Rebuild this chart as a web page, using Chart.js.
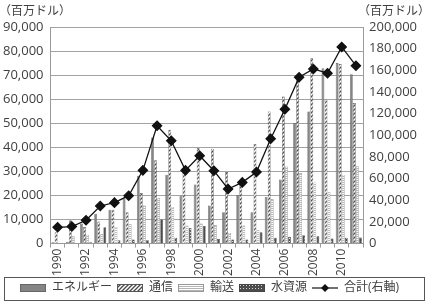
<!DOCTYPE html>
<html><head><meta charset="utf-8">
<script src="https://cdn.jsdelivr.net/npm/chart.js@4.4.1/dist/chart.umd.min.js"></script>
<style>html,body{margin:0;padding:0;background:#fff}#w{position:relative;width:429px;height:304px}</style>
</head><body><div id="w"><canvas id="c" width="429" height="304"></canvas></div>
<script>
const years = ['1990','1991','1992','1993','1994','1995','1996','1997','1998','1999','2000','2001','2002','2003','2004','2005','2006','2007','2008','2009','2010','2011'];
const energy = [500, 800, 8300, 12400, 14100, 18700, 28200, 44100, 28600, 19900, 24500, 15800, 13000, 20200, 13000, 19400, 26600, 50100, 54900, 72900, 75000, 70400];
const telecom = [4700, 9700, 6900, 9200, 14100, 13000, 21000, 34600, 47300, 31000, 39700, 39400, 29700, 25200, 41400, 54900, 61100, 68000, 77000, 59800, 74600, 58400];
const transport = [300, 3000, 3700, 4000, 6900, 8000, 15800, 18800, 15200, 7500, 8300, 7700, 4400, 7500, 5500, 18500, 32000, 29300, 25400, 21300, 28600, 32100];
const water = [100, 200, 500, 6800, 1400, 1700, 1400, 10000, 2400, 6500, 7300, 1900, 1700, 1700, 4700, 2400, 2800, 3500, 3000, 2100, 2400, 2500];
const total = [15000, 15700, 21500, 34700, 37800, 44200, 67600, 108800, 94900, 67600, 81100, 67300, 50400, 56500, 66100, 96800, 124100, 153600, 161300, 157300, 181600, 164300];
const seriesNames = ['エネルギー','通信','輸送','水資源','合計(右軸)'];
const leftTicks = {min: 0, max: 90000, step: 10000};
const rightTicks = {min: 0, max: 200000, step: 20000};
const unitLabel = '（百万ドル）';

function mk(w, h, draw){const c=document.createElement('canvas');c.width=w;c.height=h;draw(c.getContext('2d'),w,h);return c;}
const ctx0 = document.createElement('canvas').getContext('2d');
function g2p(tile){return ctx0.createPattern(tile,'repeat');}
const hatchTile = mk(4,4,(g)=>{g.fillStyle='#fff';g.fillRect(0,0,4,4);g.strokeStyle='#4a4a4a';g.lineWidth=1.3;g.beginPath();g.moveTo(-1,5);g.lineTo(5,-1);g.moveTo(-1,1);g.lineTo(1,-1);g.moveTo(3,5);g.lineTo(5,3);g.stroke();});
const stripeTile = mk(2,2,(g)=>{g.fillStyle='#fff';g.fillRect(0,0,2,2);g.fillStyle='#b5b5b5';g.fillRect(0,0,2,1);});
const dotTile = mk(3,3,(g)=>{g.fillStyle='#4d4d4d';g.fillRect(0,0,3,3);g.fillStyle='#d8d8d8';g.fillRect(1,1,1,1);});
const fills = ['#858585', g2p(hatchTile), g2p(stripeTile), g2p(dotTile)];
const borders = ['#555','#555','#8a8a8a','#3a3a3a'];

const SW = 26;
function swatch(fill, border){return mk(SW,8,(g,w,h)=>{g.fillStyle=fill;g.fillRect(0,0,w,h);g.strokeStyle=border;g.lineWidth=1;g.strokeRect(0.5,0.5,w-1,h-1);});}
const swatches = [swatch('#858585','#666'), swatch(g2p(hatchTile),'#555'), swatch(g2p(stripeTile),'#999'), swatch(g2p(dotTile),'#444'),
  mk(SW,10,(g,w,h)=>{g.strokeStyle='#111';g.lineWidth=1.2;g.beginPath();g.moveTo(0,5);g.lineTo(w,5);g.stroke();g.fillStyle='#111';g.beginPath();g.moveTo(w/2,1);g.lineTo(w/2+4,5);g.lineTo(w/2,9);g.lineTo(w/2-4,5);g.closePath();g.fill();})];

const FONT = "'Open Sans', 'Noto Sans CJK JP', sans-serif";
const barSets = [energy, telecom, transport, water].map((d,i)=>({
  type:'bar', label: seriesNames[i], data: d, yAxisID:'y', backgroundColor: fills[i], borderColor: borders[i], borderWidth: 0.6,
  categoryPercentage: 0.86, barPercentage: 0.92, order: 1
}));
const lineSet = {type:'line', label: seriesNames[4], data: total, yAxisID:'y1', borderColor:'#111', borderWidth:1.3,
  pointStyle:'rectRot', pointRadius:4.6, pointBackgroundColor:'#111', pointBorderColor:'#111', tension:0, order: 0};

const extras = {
  id:'extras',
  afterDraw(chart){
    const g = chart.ctx;
    g.save();
    g.fillStyle='#404040'; g.font = "12px 'Noto Sans CJK JP'"; g.textBaseline='middle';
    g.textAlign='left'; g.fillText(unitLabel, -1, 10);
    g.textAlign='right'; g.fillText(unitLabel, 430, 10);
    const L = chart.legend;
    const top = Math.round(L.top) + 0.5, bot = Math.min(Math.round(L.bottom) - 1.5, 300.5);
    g.strokeStyle='#555'; g.lineWidth=1;
    g.strokeRect(4.5, top, 420, bot - top);
    g.restore();
  }
};

new Chart(document.getElementById('c'), {
  data: {labels: years, datasets: [...barSets, lineSet]},
  options: {
    responsive:false, animation:false, devicePixelRatio:1,
    layout:{padding:{left:-4, right:6, top:27, bottom:0}},
    plugins:{
      tooltip:{enabled:false},
      legend:{position:'bottom', labels:{
        usePointStyle:true, pointStyleWidth:SW, boxHeight:8, padding:5, color:'#404040',
        font:{family:FONT, size:12},
        generateLabels:(chart)=>chart.data.datasets.map((ds,i)=>({text:ds.label, pointStyle:swatches[i], fillStyle:'rgba(0,0,0,0)', strokeStyle:'rgba(0,0,0,0)', lineWidth:0, hidden:false, datasetIndex:i, fontColor:'#404040'}))
      }}
    },
    scales:{
      x:{grid:{offset:true, drawOnChartArea:false, tickLength:4, color:'#9a9a9a'}, border:{color:'#9a9a9a'},
        ticks:{color:'#404040', font:{family:FONT, size:12}, maxRotation:90, minRotation:90, autoSkip:false, padding:1,
          callback:(v,i)=> i%2===0 ? years[i] : ''}},
      y:{position:'left', min:leftTicks.min, max:leftTicks.max, grid:{color:'#a3a3a3', drawTicks:false}, border:{color:'#9a9a9a'},
        ticks:{stepSize:leftTicks.step, color:'#404040', font:{family:FONT, size:13}, padding:7, callback:(v)=>v.toLocaleString('en-US')}},
      y1:{position:'right', min:rightTicks.min, max:rightTicks.max, grid:{drawOnChartArea:false, drawTicks:false}, border:{color:'#9a9a9a'},
        ticks:{stepSize:rightTicks.step, color:'#404040', font:{family:FONT, size:13}, padding:6, callback:(v)=>v.toLocaleString('en-US')}}
    }
  },
  plugins:[extras]
});
</script></body></html>
